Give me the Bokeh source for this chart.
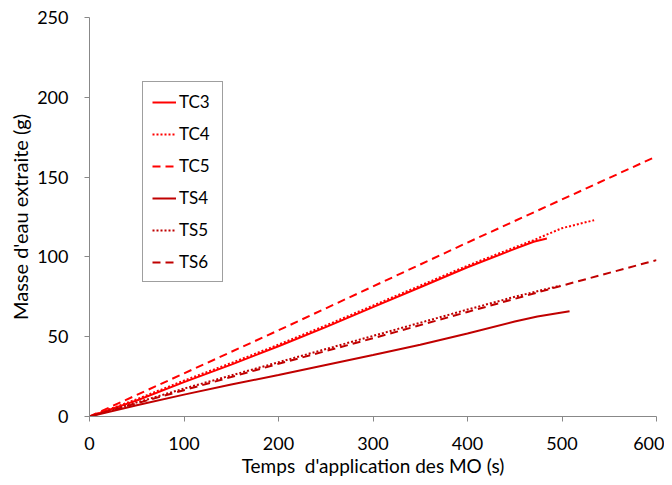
from bokeh.plotting import figure
from bokeh.models import Legend, LegendItem, FixedTicker, Range1d
from bokeh.embed import file_html
from bokeh.resources import INLINE

# data
tc3_x = [0, 50, 100, 150, 200, 250, 300, 350, 400, 450, 470, 484]
tc3_y = [0, 10, 21.5, 32.5, 44, 56, 68.5, 81, 93.5, 105, 109.5, 111.5]
tc4_x = [0, 50, 100, 150, 200, 250, 300, 350, 400, 450, 470, 500, 534]
tc4_y = [0, 10.8, 22.5, 33.5, 45, 57, 69.5, 82, 94.5, 106, 110.5, 118, 123]
tc5_x = [0, 100, 200, 300, 400, 500, 600]
tc5_y = [0, 27, 54, 81.5, 109, 136, 163]
ts4_x = [0, 50, 100, 150, 200, 250, 300, 350, 400, 450, 474, 508]
ts4_y = [0, 7, 13.7, 20, 26, 32.3, 38.5, 45, 52, 59.5, 62.7, 66]
ts5_x = [0, 100, 200, 300, 400, 450, 498]
ts5_y = [0, 17.5, 34, 50.5, 67, 75, 82]
ts6_x = [0, 100, 200, 300, 400, 500, 600]
ts6_y = [0, 16.5, 33, 49, 65.5, 82, 98]

x_ticks = [0, 100, 200, 300, 400, 500, 600]
y_ticks = [0, 50, 100, 150, 200, 250]

RED = "#FF0000"
DARK = "#C00000"
FONT = "Lato"

p = figure(width=664, height=481, output_backend="svg", toolbar_location=None,
           x_range=Range1d(0, 600), y_range=Range1d(0, 250),
           min_border_left=89, min_border_right=8, min_border_top=17, min_border_bottom=65)
p.outline_line_color = None
p.xgrid.visible = False
p.ygrid.visible = False

series = [
    ("TC3", tc3_x, tc3_y, RED, "solid"),
    ("TC4", tc4_x, tc4_y, RED, "2 2"),
    ("TC5", tc5_x, tc5_y, RED, "8 5"),
    ("TS4", ts4_x, ts4_y, DARK, "solid"),
    ("TS5", ts5_x, ts5_y, DARK, "2 2"),
    ("TS6", ts6_x, ts6_y, DARK, "8 5"),
]
items = []
for name, xs, ys, col, dash in series:
    r = p.line(xs, ys, line_color=col, line_width=2, line_dash=dash)
    items.append(LegendItem(label=name, renderers=[r]))

for ax in (p.xaxis[0], p.yaxis[0]):
    ax.axis_line_color = "#888888"
    ax.major_tick_line_color = "#888888"
    ax.major_tick_in = 0
    ax.major_tick_out = 5
    ax.minor_tick_line_color = None
    ax.major_label_text_font = FONT
    ax.major_label_text_font_size = "18px"
    ax.major_label_text_color = "#000000"
    ax.axis_label_text_font = FONT
    ax.axis_label_text_font_style = "normal"
    ax.axis_label_text_color = "#000000"

p.xaxis.axis_label_text_font_size = "19px"
p.yaxis.axis_label_text_font_size = "20px"
p.xaxis.ticker = FixedTicker(ticks=x_ticks)
p.yaxis.ticker = FixedTicker(ticks=y_ticks)
p.xaxis.axis_label = "Temps\u00a0 d'application des MO (s)"
p.yaxis.axis_label = "Masse d'eau extraite (g)"
p.xaxis.major_label_standoff = 15
p.yaxis.major_label_standoff = 16
p.xaxis.axis_label_standoff = 1
p.yaxis.axis_label_standoff = 2

legend = Legend(items=items, location=(53, 134))
legend.label_text_font = FONT
legend.label_text_font_size = "17px"
legend.label_text_color = "#000000"
legend.glyph_width = 24
legend.glyph_height = 20
legend.label_height = 20
legend.label_width = 34
legend.spacing = 11
legend.padding = 9
legend.label_standoff = 3
legend.border_line_color = "#404040"
legend.border_line_width = 1
legend.background_fill_alpha = 1
p.add_layout(legend, "center")

open("out.html", "w").write(file_html(p, INLINE))
